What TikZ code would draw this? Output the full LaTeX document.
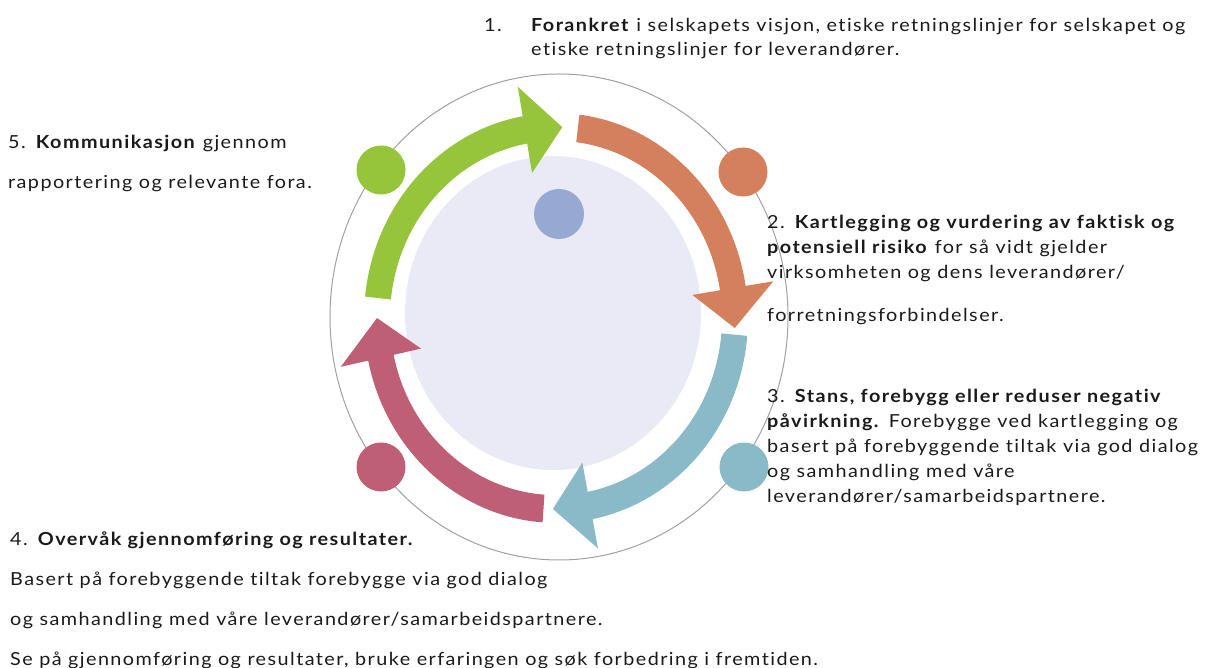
\documentclass[tikz,border=0pt]{standalone}
\usepackage{fontspec}
\setmainfont{Lato}[FakeStretch=1.1,LetterSpace=8,Ligatures=NoCommon]
\definecolor{leafgreen}{HTML}{96C43A}
\definecolor{clayorange}{HTML}{D4805C}
\definecolor{seateal}{HTML}{8ABAC7}
\definecolor{rosered}{HTML}{BE5F75}
\definecolor{hubblue}{HTML}{97A8D2}
\definecolor{hublavender}{HTML}{E9EAF5}
\definecolor{ringgray}{HTML}{A0A0A0}
\definecolor{inkblack}{HTML}{1A1A1A}
\begin{document}
\begin{tikzpicture}[x=1pt,y=1pt,
  spot/.style={circle,minimum size=49pt,inner sep=0pt},
  txt/.style={anchor=north west,inner sep=0pt,align=left,text=inkblack,
    font=\fontsize{18}{25}\selectfont}]
\useasboundingbox (0,0) rectangle (1206,668);

% hub and ring
\fill[hublavender] (553,355) ellipse [x radius=148,y radius=157];
\draw[ringgray,line width=1pt] (559,351) ellipse [x radius=229,y radius=243];

% the four curved arrows
\begin{scope}[shift={(556,350)},yscale=1.067]
\foreach \tail/\col [evaluate=\tail as \hbase using \tail-74,
    evaluate=\tail as \htip using \tail-86]
    in {174/leafgreen,83/clayorange,-5/seateal,-94/rosered}
  \fill[\col] (\tail:166) arc[start angle=\tail,end angle=\hbase,radius=166]
    -- (\hbase:138) -- (\htip:179) -- (\hbase:220) -- (\hbase:192)
    arc[start angle=\hbase,end angle=\tail,radius=192] -- cycle;
\end{scope}

% dots
\node[spot,fill=leafgreen] (g) at (381,498) {};
\node[spot,fill=clayorange] (o) at (743,496) {};
\node[spot,fill=seateal] (t) at (744,201) {};
\node[spot,fill=rosered] (r) at (381,201) {};
\node[spot,minimum size=50pt,fill=hubblue] (hub) at (559,454) {};

% texts
\node[txt] (n1) at (484,650) {1.};
\node[txt,font=\fontsize{18}{24}\selectfont] (t1) at (531,650) {\textbf{Forankret} i selskapets visjon, etiske retningslinjer for selskapet og\\
  etiske retningslinjer for leverandører.};
\node[txt] (t2) at (767,453) {2. \textbf{Kartlegging og vurdering av faktisk og}\\
  \textbf{potensiell risiko} for så vidt gjelder\\
  virksomheten og dens leverandører/\\[18pt]
  forretningsforbindelser.};
\node[txt] (t3) at (767,279) {3. \textbf{Stans, forebygg eller reduser negativ}\\
  \textbf{påvirkning.} Forebygge ved kartlegging og\\
  basert på forebyggende tiltak via god dialog\\
  og samhandling med våre\\
  leverandører/samarbeidspartnere.};
\node[txt,font=\fontsize{18}{40}\selectfont] (t4) at (10,136) {4. \textbf{Overvåk gjennomføring og resultater.}\\
  Basert på forebyggende tiltak forebygge via god dialog\\
  og samhandling med våre leverandører/samarbeidspartnere.\\
  Se på gjennomføring og resultater, bruke erfaringen og søk forbedring i fremtiden.};
\node[txt,font=\fontsize{18}{40}\selectfont] (t5) at (8,533) {5. \textbf{Kommunikasjon} gjennom\\
  rapportering og relevante fora.};
\end{tikzpicture}
\end{document}
